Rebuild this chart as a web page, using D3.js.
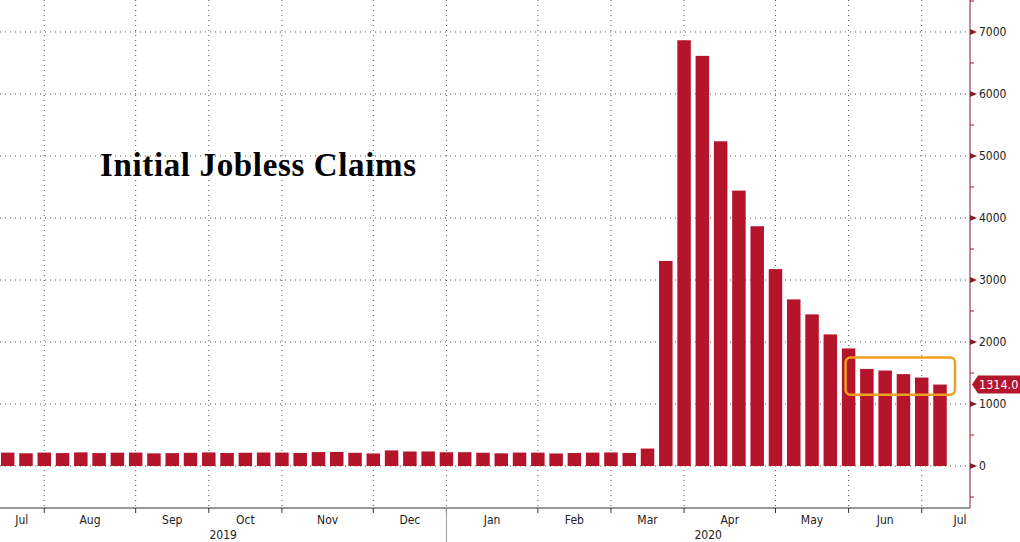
<!DOCTYPE html>
<html>
<head>
<meta charset="utf-8">
<script src="https://cdn.jsdelivr.net/npm/d3@7"></script>
<style>
  body { margin: 0; background: #fff; }
  text { font-family: "DejaVu Sans Condensed", "DejaVu Sans", sans-serif; }
</style>
</head>
<body>
<svg id="chart" width="1020" height="542"></svg>
<script>
// weekly initial claims (thousands), week ending 2019-07-13 .. 2020-07-04
const weekStart = "2019-07-13";
const claims = [
  216, 206, 217, 209, 220, 209, 215, 217, 204, 208, 213, 219, 210, 214, 218, 217,
  211, 225, 227, 213, 203, 252, 234, 235, 222, 223, 214, 205, 217, 216, 202, 210,
  216, 219, 211, 282, 3307, 6867, 6615, 5237, 4442, 3867, 3176, 2687, 2446, 2123,
  1897, 1566, 1540, 1482, 1427, 1314
];
const monthTickIdx = [2, 7, 11, 15, 20, 24, 29, 33, 37, 42, 46, 50];
const monthLabels = ["Jul", "Aug", "Sep", "Oct", "Nov", "Dec", "Jan", "Feb", "Mar", "Apr", "May", "Jun", "Jul"];
const yearLabels = ["2019", "2020"];
const yTicks = [0, 1000, 2000, 3000, 4000, 5000, 6000, 7000];
const lastValue = 1314.0;

const red = "#b5152b";
const svg = d3.select("#chart");
const plotRight = 970, plotBottom = 508;

const x = d3.scaleLinear().domain([0, claims.length - 1]).range([7.7, 940]);
const y = d3.scaleLinear().domain([-677, 7516]).range([plotBottom, 0]);
const barW = 13.5;

// gridlines
svg.append("g").selectAll("line").data(yTicks).join("line")
  .attr("x1", 0).attr("x2", plotRight)
  .attr("y1", d => y(d)).attr("y2", d => y(d))
  .attr("stroke", "#555").attr("stroke-dasharray", "1,4");
svg.append("g").selectAll("line").data(monthTickIdx).join("line")
  .attr("x1", d => x(d)).attr("x2", d => x(d))
  .attr("y1", 0).attr("y2", plotBottom)
  .attr("stroke", "#555").attr("stroke-dasharray", "1,4");

// bars
svg.append("g").selectAll("rect").data(claims).join("rect")
  .attr("x", (d, i) => x(i) - barW / 2)
  .attr("width", barW)
  .attr("y", d => y(d))
  .attr("height", d => y(0) - y(d))
  .attr("fill", red);

// title
svg.append("text").attr("x", 100).attr("y", 176)
  .style("font-family", "'Liberation Serif', 'DejaVu Serif', serif")
  .style("font-weight", "bold").style("font-size", "33px")
  .attr("textLength", 316)
  .text("Initial Jobless Claims");

// bottom axis
svg.append("line").attr("x1", 0).attr("x2", plotRight)
  .attr("y1", plotBottom).attr("y2", plotBottom).attr("stroke", "#333");
svg.append("g").selectAll("line").data(monthTickIdx).join("line")
  .attr("x1", d => x(d)).attr("x2", d => x(d))
  .attr("y1", plotBottom).attr("y2", plotBottom + 5).attr("stroke", "#333");
const bounds = [-0.45, ...monthTickIdx, 54.2];
svg.append("g").selectAll("text").data(monthLabels).join("text")
  .attr("x", (d, i) => (x(bounds[i]) + x(bounds[i + 1])) / 2)
  .attr("y", 524).attr("text-anchor", "middle")
  .style("font-size", "12px").attr("fill", "#222").text(d => d);
// year separator
svg.append("line").attr("x1", x(24)).attr("x2", x(24))
  .attr("y1", plotBottom).attr("y2", 542).attr("stroke", "#999");
svg.append("text").attr("x", (0 + x(24)) / 2).attr("y", 539).attr("text-anchor", "middle")
  .style("font-size", "12px").attr("fill", "#222").text(yearLabels[0]);
svg.append("text").attr("x", (x(24) + plotRight) / 2).attr("y", 539).attr("text-anchor", "middle")
  .style("font-size", "12px").attr("fill", "#222").text(yearLabels[1]);

// right axis
const axisColor = "#8a1c2c";
svg.append("line").attr("x1", plotRight).attr("x2", plotRight)
  .attr("y1", 0).attr("y2", plotBottom).attr("stroke", axisColor);
const minor = d3.range(-500, 7600, 500);
svg.append("g").selectAll("line").data(minor).join("line")
  .attr("x1", plotRight).attr("x2", plotRight + 4)
  .attr("y1", d => y(d)).attr("y2", d => y(d)).attr("stroke", axisColor);
svg.append("g").selectAll("path").data(yTicks).join("path")
  .attr("d", d => `M${plotRight},${y(d) - 3}L${plotRight + 7},${y(d)}L${plotRight},${y(d) + 3}Z`)
  .attr("fill", axisColor);
svg.append("g").selectAll("text").data(yTicks).join("text")
  .attr("x", plotRight + 9).attr("y", d => y(d) + 4)
  .style("font-size", "12px").attr("fill", "#222").text(d => d);

// last value tag
const ly = y(lastValue);
svg.append("path")
  .attr("d", `M${plotRight + 2},${ly}L${plotRight + 8},${ly - 9}L1020,${ly - 9}L1020,${ly + 9}L${plotRight + 8},${ly + 9}Z`)
  .attr("fill", red);
svg.append("text").attr("x", plotRight + 9).attr("y", ly + 4.5)
  .style("font-size", "12.5px").attr("fill", "#fff").text(lastValue.toFixed(1));

// highlight box
svg.append("rect")
  .attr("x", x(46) - 3).attr("width", x(51) + 15 - x(46) + 3)
  .attr("y", y(1750)).attr("height", y(1150) - y(1750))
  .attr("rx", 5).attr("fill", "none")
  .attr("stroke", "#f0a020").attr("stroke-width", 2.5);
</script>
</body>
</html>
